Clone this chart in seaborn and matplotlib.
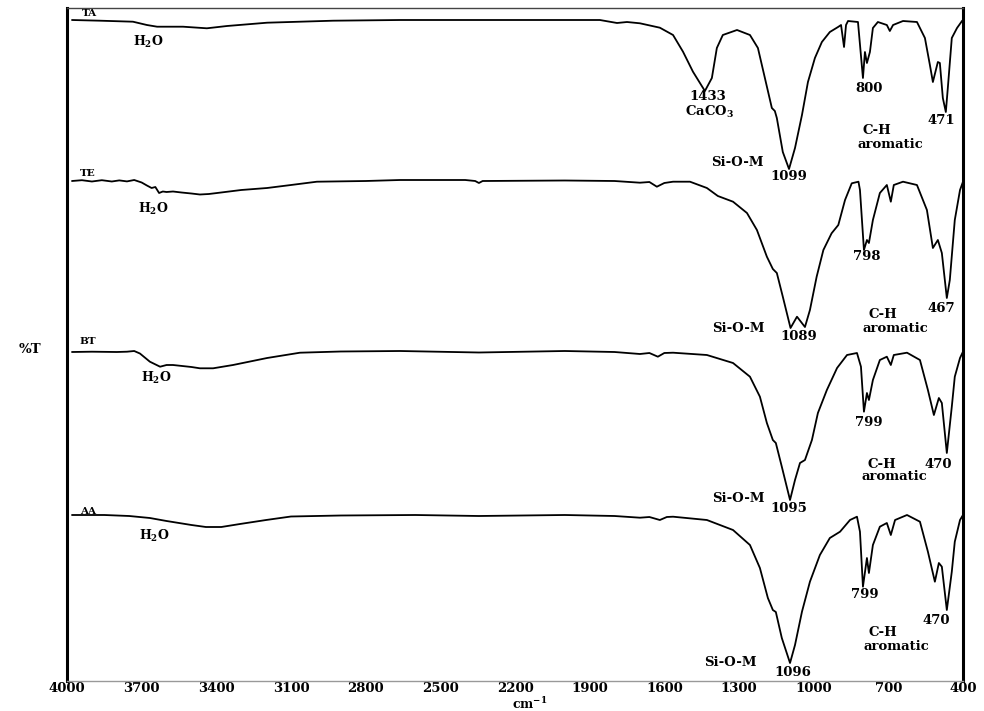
import numpy as np
import pandas as pd
import matplotlib
matplotlib.use('Agg')
import matplotlib.pyplot as plt
import seaborn as sns

# Espectros FTIR (numero de onda, %T en unidades apiladas)
ta_wn = [3980, 3867, 3735, 3679, 3638, 3534, 3438, 3357, 3196, 2931, 2662, 2300, 2000, 1859,
         1790, 1750, 1698, 1618, 1565, 1525, 1485, 1437, 1409, 1389, 1365, 1308, 1256, 1224,
         1196, 1168, 1156, 1148, 1124, 1099, 1075, 1047, 1023, 995, 967, 935, 902, 890, 878,
         870, 862, 822, 802, 794, 786, 774, 762, 742, 706, 694, 681, 641, 585, 553, 533, 521,
         501, 493, 481, 469, 461, 445, 424, 404, 400]
ta_t = [661, 660.3, 659.3, 656, 654.3, 654.3, 652.7, 655, 658.3, 660.3, 661, 661, 661, 661,
        658, 659, 657.7, 653.3, 646, 629.3, 609.3, 590, 603, 633, 646, 651, 646, 633,
        603, 573, 570, 563, 529, 512, 533, 566, 599, 623, 639, 649, 654, 656, 634,
        656, 660, 659, 603, 629, 618, 629, 653, 659, 656, 650, 656, 660, 659, 643, 616, 599,
        619, 618, 583, 569, 593, 643, 653, 660, 661]

te_wn = [3980, 3940, 3900, 3860, 3820, 3790, 3759, 3730, 3700, 3679, 3660, 3645, 3630, 3615,
         3600, 3574, 3540, 3500, 3466, 3430, 3397, 3300, 3196, 3100, 2996, 2800, 2662, 2400,
         2360, 2345, 2330, 2000, 1800, 1698, 1660, 1630, 1600, 1565, 1497, 1429, 1385, 1324,
         1268, 1228, 1188, 1164, 1148, 1124, 1093, 1067, 1035, 1015, 988, 961, 928, 901, 874,
         847, 820, 814, 798, 786, 778, 762, 734, 706, 690, 678, 641, 585, 545, 521, 501, 485,
         465, 453, 433, 412, 400]
te_t = [500, 500.8, 499.5, 500.8, 499.5, 500.6, 499.6, 501, 498.5, 495.5, 493, 494, 488, 489.5,
        489, 489.5, 488.5, 487.5, 486.5, 487, 488, 491, 493, 496, 499.3, 500, 501, 501,
        500, 498, 500, 500.5, 500, 498.3, 499, 494.3, 498, 499.3, 499.3, 493, 485, 479.3,
        468, 451, 424.3, 412, 408, 384.3, 353, 364.3, 354, 371, 404.3, 431, 447.7, 456, 481,
        497.7, 499.3, 491, 431, 441, 438, 461, 488, 496, 479.3, 496, 499.3, 496, 471, 433, 441, 428,
        383, 401, 461, 491, 499.3]

bt_wn = [3980, 3900, 3800, 3759, 3730, 3707, 3667, 3640, 3626, 3600, 3574, 3500, 3466, 3413,
         3333, 3196, 3064, 2900, 2662, 2345, 2000, 1800, 1698, 1660, 1626, 1600, 1565, 1429,
         1324, 1256, 1216, 1188, 1164, 1152, 1128, 1095, 1075, 1055, 1035, 1007, 983, 947, 906,
         866, 826, 810, 798, 786, 778, 762, 734, 706, 690, 678, 625, 573, 541, 517, 497, 485,
         465, 445, 433, 412, 400]
bt_t = [329, 329.3, 329, 329.3, 330, 327.5, 319.3, 316, 314.3, 316, 316, 314, 312.7, 312.7,
        316, 323, 328.3, 329.5, 330, 328.5, 330, 329, 327, 328, 324.3, 328, 328.3, 326,
        318, 304.3, 284.3, 258, 241, 238, 214.3, 181, 201, 218, 221, 241, 268, 291, 313,
        326, 328, 314.3, 269.3, 288, 281, 301, 321, 324.3, 316, 326, 328.3, 321, 291, 266, 283, 278,
        228, 274.3, 304.3, 323, 329.3]

aa_wn = [3980, 3850, 3750, 3667, 3600, 3500, 3442, 3380, 3305, 3200, 3100, 2900, 2600, 2345,
         2000, 1800, 1698, 1660, 1618, 1590, 1565, 1429, 1324, 1256, 1216, 1184, 1164, 1152,
         1128, 1095, 1075, 1047, 1015, 975, 935, 894, 854, 826, 814, 802, 786, 778, 762, 734,
         706, 690, 673, 625, 573, 541, 513, 497, 485, 465, 445, 433, 412, 400]
aa_t = [166, 166, 165, 163, 160, 156, 154, 154, 157, 161, 164.5, 165.5, 166, 165,
        166, 165, 163.3, 164, 161, 164, 164.3, 161, 151, 136, 113, 83, 71, 69,
        43, 18, 36, 69.3, 99.3, 126, 143, 149.3, 161, 164.3, 149.3, 94.3, 123, 108, 136, 154.3,
        158, 146, 161, 166, 159.3, 129.3, 99.3, 118, 114.3, 71, 109.3, 139.3, 161, 166]

muestras = ['TA', 'TE', 'BT', 'AA']
xticks = [4000, 3700, 3400, 3100, 2800, 2500, 2200, 1900, 1600, 1300, 1000, 700, 400]

espectros = pd.concat([
    pd.DataFrame({'wn': ta_wn, 'T': ta_t, 'muestra': 'TA'}),
    pd.DataFrame({'wn': te_wn, 'T': te_t, 'muestra': 'TE'}),
    pd.DataFrame({'wn': bt_wn, 'T': bt_t, 'muestra': 'BT'}),
    pd.DataFrame({'wn': aa_wn, 'T': aa_t, 'muestra': 'AA'}),
])

# Etiquetas: (texto, numero de onda, altura)
nombres = [('TA', 3940, 667), ('TE', 3948, 508), ('BT', 3948, 339), ('AA', 3948, 169)]
agua = [(3735, 639), (3715, 472), (3703, 303), (3711, 145)]
bandas = [
    ('1433', 1425, 585), ('CaCO$_\\mathbf{3}$', 1417, 569), ('Si-O-M', 1308, 519), ('1099', 1099, 505),
    ('800', 778, 593), ('471', 489, 560), ('C-H', 746, 550), ('aromatic', 693, 537),
    ('Si-O-M', 1304, 353), ('1089', 1059, 344), ('798', 786, 425), ('467', 489, 372),
    ('C-H', 722, 366), ('aromatic', 673, 353),
    ('Si-O-M', 1304, 183), ('1095', 1099, 172), ('799', 778, 259), ('C-H', 726, 217),
    ('470', 501, 217), ('aromatic', 677, 204),
    ('Si-O-M', 1336, 19), ('1096', 1083, 9), ('799', 794, 87), ('470', 509, 60),
    ('C-H', 722, 48), ('aromatic', 669, 35),
]

sns.set_theme(style='white')
plt.rcParams['font.family'] = ['DejaVu Serif']
plt.rcParams['font.weight'] = 'bold'
plt.rcParams['mathtext.fontset'] = 'dejavuserif'
plt.rcParams['text.color'] = 'black'
plt.rcParams['xtick.labelcolor'] = 'black'
plt.rcParams['axes.labelcolor'] = 'black'

fig = plt.figure(figsize=(9.84, 7.11), dpi=100)
ax = fig.add_axes([67/984, 30/711, 896/984, 673/711])

for m in muestras:
    d = espectros[espectros['muestra'] == m]
    sns.lineplot(data=d, x='wn', y='T', color='black', linewidth=1.3, estimator=None, ax=ax)

ax.set_xlim(4000, 400)
ax.set_ylim(0, 673)
ax.set_xticks(xticks)
ax.set_xticklabels([str(t) for t in xticks], fontsize=9.5, fontweight='bold')
ax.set_yticks([])
ax.tick_params(axis='x', direction='in', length=3, color='#999999', labelcolor='black', pad=1)
ax.set_xlabel('cm$^{\\mathbf{-1}}$', fontsize=9, fontweight='bold', color='black')
ax.xaxis.set_label_coords(0.517, -0.023)
ax.set_ylabel('')
ax.text(-0.041, 0.492, '%T', transform=ax.transAxes, ha='center', va='center',
        fontsize=9.5, fontweight='bold', color='black')

ax.spines['left'].set_linewidth(2.2)
ax.spines['left'].set_color('black')
ax.spines['right'].set_linewidth(2.2)
ax.spines['right'].set_color('black')
ax.spines['top'].set_linewidth(1.0)
ax.spines['top'].set_color('#444444')
ax.spines['bottom'].set_linewidth(1.0)
ax.spines['bottom'].set_color('#999999')

for txt, x, y in nombres:
    ax.text(x, y, txt, ha='left', va='center', fontsize=7.5, fontweight='bold', color='black')
for x, y in agua:
    ax.text(x, y, 'H$_\\mathbf{2}$O', ha='left', va='center', fontsize=9, fontweight='bold',
            color='black')
for txt, x, y in bandas:
    ax.text(x, y, txt, ha='center', va='center', fontsize=9.5, fontweight='bold', color='black')

fig.savefig('out.png', dpi=100)
